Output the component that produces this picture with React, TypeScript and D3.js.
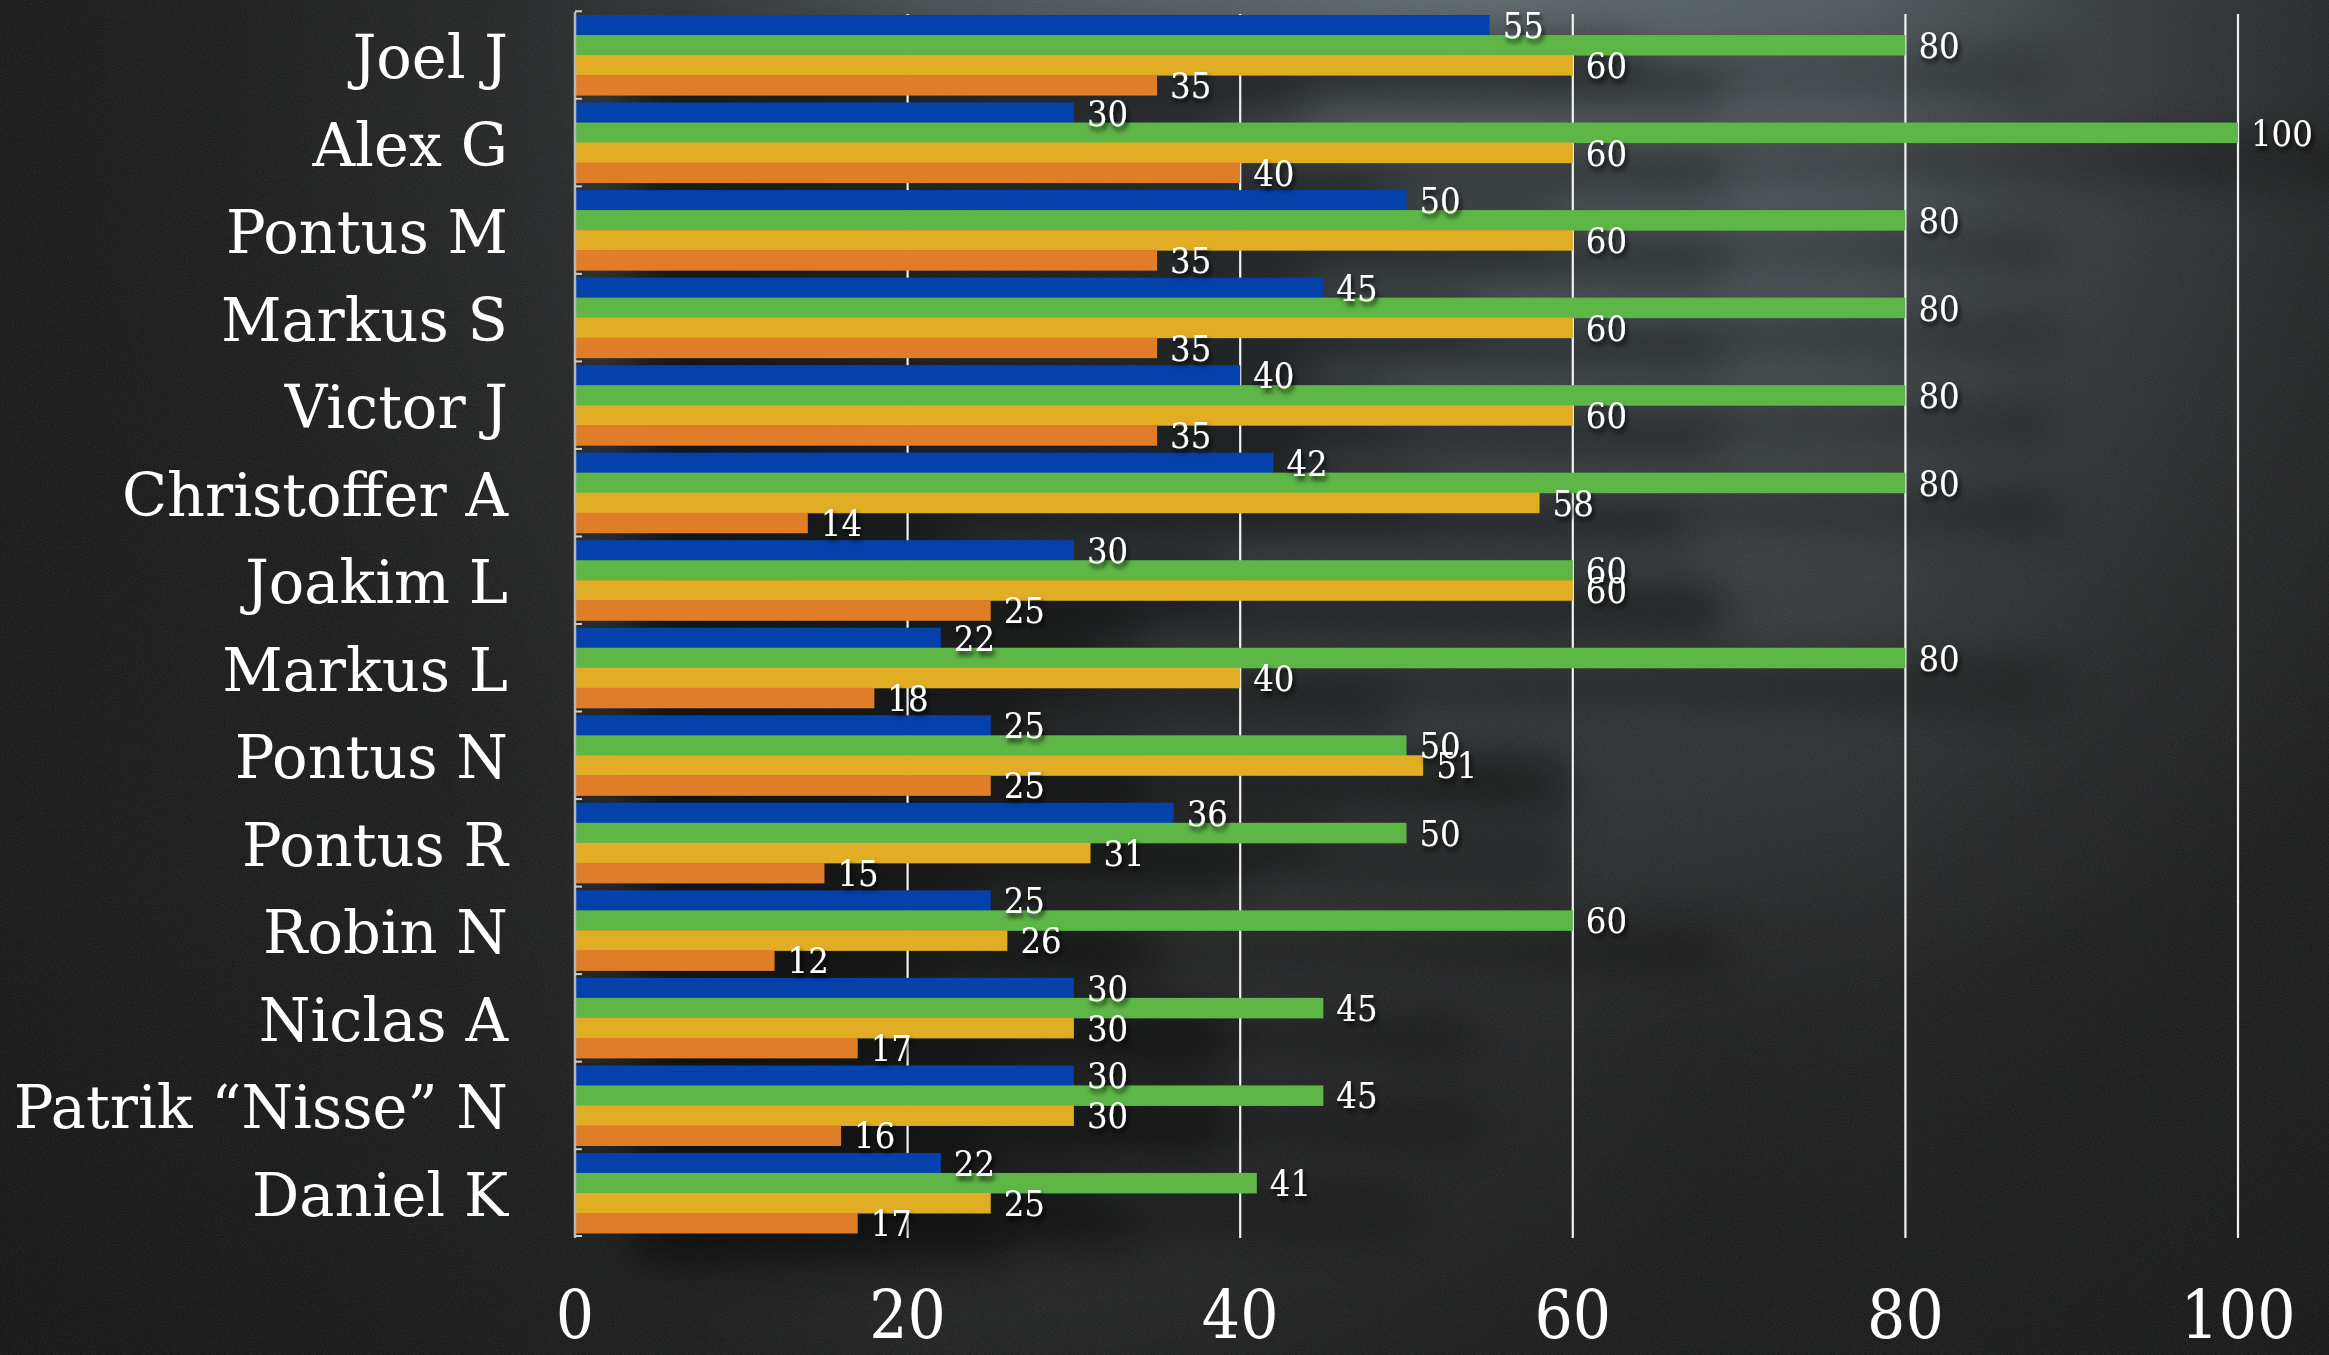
import React from "react";
import * as d3 from "d3";

const names = [
  "Joel J", "Alex G", "Pontus M", "Markus S", "Victor J", "Christoffer A", "Joakim L",
  "Markus L", "Pontus N", "Pontus R", "Robin N", "Niclas A", "Patrik \u201cNisse\u201d N", "Daniel K",
];
const blueValues = [55, 30, 50, 45, 40, 42, 30, 22, 25, 36, 25, 30, 30, 22];
const greenValues = [80, 100, 80, 80, 80, 80, 60, 80, 50, 50, 60, 45, 45, 41];
const yellowValues = [60, 60, 60, 60, 60, 58, 60, 40, 51, 31, 26, 30, 30, 25];
const orangeValues = [35, 40, 35, 35, 35, 14, 25, 18, 25, 15, 12, 17, 16, 17];
const seriesKeys = ["blue", "green", "yellow", "orange"];
const seriesColors = ["#0441ab", "#5db646", "#e1ad24", "#df7d28"];
const xTicks = [0, 20, 40, 60, 80, 100];

const W = 2329;
const H = 1355;
const FONT_C = "'DejaVu Serif Condensed', 'DejaVu Serif', serif";
const FONT = "'DejaVu Serif', serif";

export default function App() {
  const series = [blueValues, greenValues, yellowValues, orangeValues];
  const x = d3.scaleLinear().domain([0, 100]).range([575, 2238]);
  const y = d3.scaleBand<string>().domain(names).range([15, 1233]).paddingInner(0.085).paddingOuter(0);
  const sub = d3.scaleBand<string>().domain(seriesKeys).range([0, y.bandwidth()]).padding(0);
  const axisTop = 12;
  const axisBottom = 1238;

  return (
    <svg width={W} height={H} style={{ position: "absolute", left: 0, top: 0, display: "block" }}>
      <defs>
        <radialGradient
          id="bg1"
          cx="1450"
          cy="0"
          r="1400"
          gradientUnits="userSpaceOnUse"
          gradientTransform="translate(1450 0) scale(1 0.75) translate(-1450 0)"
        >
          <stop offset="0" stopColor="#5d676b" />
          <stop offset="0.3" stopColor="#4b5458" />
          <stop offset="0.65" stopColor="#2f3335" />
          <stop offset="1" stopColor="#1b1c1d" />
        </radialGradient>
        <radialGradient id="bg2" cx="1000" cy="1150" r="700" gradientUnits="userSpaceOnUse">
          <stop offset="0" stopColor="#3a3d3f" stopOpacity="0.6" />
          <stop offset="1" stopColor="#3a3d3f" stopOpacity="0" />
        </radialGradient>
        <linearGradient id="leftDark" x1="0" y1="0" x2="1" y2="0">
          <stop offset="0" stopColor="#101010" stopOpacity="0.85" />
          <stop offset="0.2" stopColor="#121212" stopOpacity="0.55" />
          <stop offset="0.4" stopColor="#121212" stopOpacity="0" />
        </linearGradient>
        <linearGradient id="rightDark" x1="0" y1="0" x2="1" y2="0">
          <stop offset="0.8" stopColor="#0e0e0e" stopOpacity="0" />
          <stop offset="1" stopColor="#0e0e0e" stopOpacity="0.45" />
        </linearGradient>
        <linearGradient id="bottomDark" x1="0" y1="0" x2="0" y2="1">
          <stop offset="0.65" stopColor="#0c0c0c" stopOpacity="0" />
          <stop offset="1" stopColor="#0c0c0c" stopOpacity="0.5" />
        </linearGradient>
        <filter id="noise" x="0" y="0" width="100%" height="100%">
          <feTurbulence type="fractalNoise" baseFrequency="0.9" numOctaves="2" seed="3" result="n" />
          <feColorMatrix type="matrix" values="0 0 0 0 0.5  0 0 0 0 0.5  0 0 0 0 0.5  0 0 0 0.16 0" />
        </filter>
        <filter id="barShadow" x="-20%" y="-20%" width="160%" height="160%">
          <feGaussianBlur stdDeviation="24" />
        </filter>
        <filter id="textShadow" x="-30%" y="-30%" width="160%" height="180%">
          <feDropShadow dx="2" dy="4" stdDeviation="2.5" floodColor="#000" floodOpacity="0.85" />
        </filter>
      </defs>

      <rect x={0} y={0} width={W} height={H} fill="#1b1c1d" />
      <rect x={0} y={0} width={W} height={H} fill="url(#bg1)" />
      <rect x={0} y={0} width={W} height={H} fill="url(#bg2)" />
      <rect x={0} y={0} width={W} height={H} fill="url(#leftDark)" />
      <rect x={0} y={0} width={W} height={H} fill="url(#rightDark)" />
      <rect x={0} y={0} width={W} height={H} fill="url(#bottomDark)" />
      <rect x={0} y={0} width={W} height={H} filter="url(#noise)" />

      {/* soft shadows behind the bars */}
      <g filter="url(#barShadow)" opacity={0.6}>
        {names.map((n, i) =>
          series.map((vals, s) => (
            <rect
              key={`sh-${i}-${s}`}
              x={x(0) + 60}
              y={(y(n) as number) + sub(seriesKeys[s])! + 28}
              width={x(vals[i]) - x(0) + 90}
              height={sub.bandwidth()}
              fill="#000"
            />
          ))
        )}
      </g>

      {/* gridlines */}
      {xTicks.filter((t) => t > 0).map((t) => (
        <line key={`g-${t}`} x1={x(t)} x2={x(t)} y1={axisTop + 2} y2={axisBottom} stroke="#f2f2f2" strokeWidth={2.2} />
      ))}

      {/* bars */}
      {names.map((n, i) =>
        series.map((vals, s) => (
          <rect
            key={`b-${i}-${s}`}
            x={x(0)}
            y={(y(n) as number) + sub(seriesKeys[s])!}
            width={x(vals[i]) - x(0)}
            height={sub.bandwidth() + 0.5}
            fill={seriesColors[s]}
          />
        ))
      )}

      {/* y axis line and group ticks */}
      <line x1={x(0)} x2={x(0)} y1={axisTop} y2={axisBottom} stroke="#b8b8b8" strokeWidth={2.5} />
      {names.map((n, i) => (
        <line
          key={`t-${i}`}
          x1={x(0)}
          x2={x(0) + 7}
          y1={(y(n) as number) - (y.step() - y.bandwidth()) / 2}
          y2={(y(n) as number) - (y.step() - y.bandwidth()) / 2}
          stroke="#cfcfcf"
          strokeWidth={2}
        />
      ))}
      <line x1={x(0)} x2={x(0) + 7} y1={axisBottom - 2} y2={axisBottom - 2} stroke="#cfcfcf" strokeWidth={2} />

      {/* value labels */}
      <g filter="url(#textShadow)">
        {names.map((n, i) =>
          series.map((vals, s) => (
            <text
              key={`v-${i}-${s}`}
              x={x(vals[i]) + 13}
              y={(y(n) as number) + sub(seriesKeys[s])! + sub.bandwidth() / 2 + 13}
              fill="#ffffff"
              fontFamily={FONT_C}
              fontStretch="condensed"
              fontSize={36}
            >
              {vals[i]}
            </text>
          ))
        )}
      </g>

      {/* category labels */}
      {names.map((n) => (
        <text
          key={`n-${n}`}
          x={508}
          y={(y(n) as number) + y.bandwidth() / 2 + 23}
          textAnchor="end"
          fill="#ffffff"
          fontFamily={FONT}
          fontSize={59}
        >
          {n}
        </text>
      ))}

      {/* x tick labels */}
      {xTicks.map((t) => (
        <text
          key={`xt-${t}`}
          x={x(t)}
          y={1338}
          textAnchor="middle"
          fill="#ffffff"
          fontFamily={FONT_C}
          fontStretch="condensed"
          fontSize={67}
        >
          {t}
        </text>
      ))}
    </svg>
  );
}
